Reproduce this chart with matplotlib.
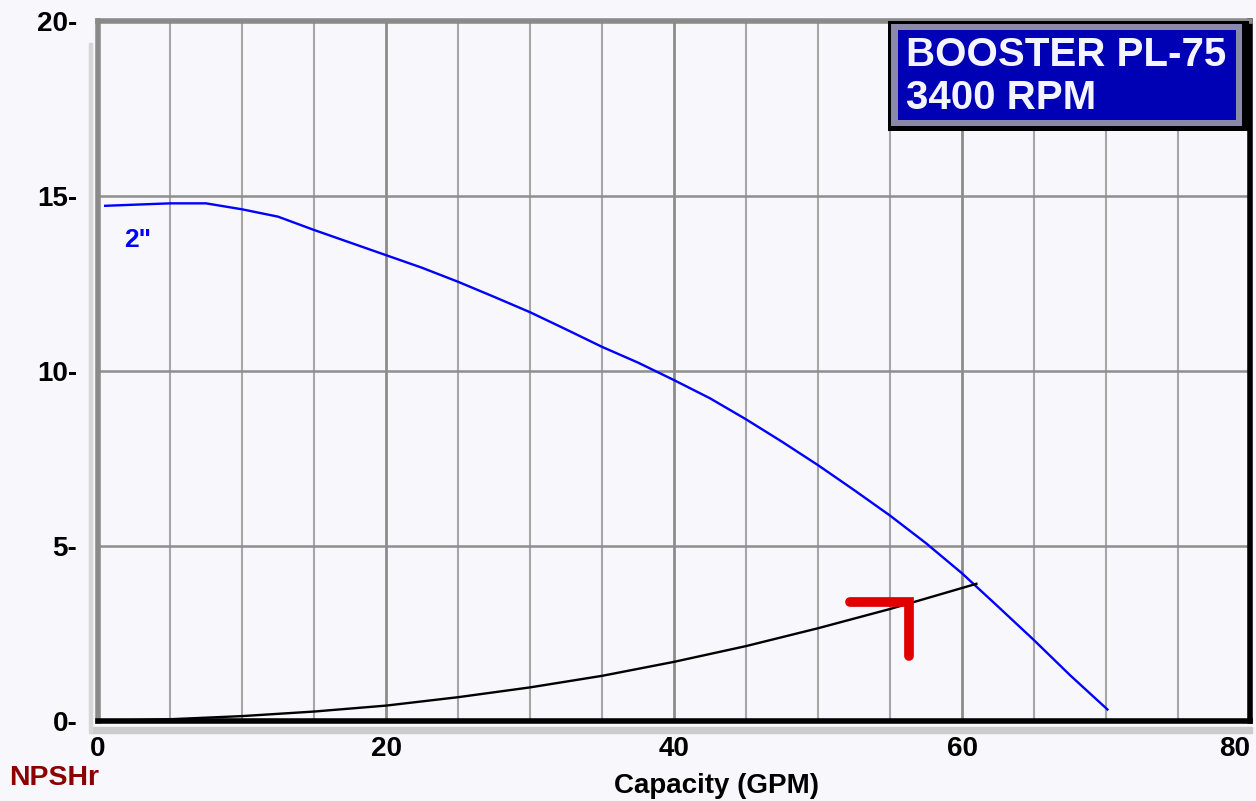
import matplotlib.pyplot as plt
from matplotlib.patches import Rectangle

# pump curve (head, ft) for the 2" impeller
head_gpm = [0.5, 5, 7.5, 10, 12.5, 15, 17.5, 20, 22.5, 25, 27.5, 30, 32.5, 35, 37.5,
            40, 42.5, 45, 47.5, 50, 52.5, 55, 57.5, 60, 62.5, 65, 67.5, 70.1]
head_ft = [14.72, 14.79, 14.79, 14.62, 14.41, 14.03, 13.67, 13.31, 12.95, 12.55, 12.12,
           11.68, 11.19, 10.69, 10.24, 9.74, 9.22, 8.62, 7.98, 7.31, 6.6, 5.87, 5.08,
           4.22, 3.27, 2.31, 1.31, 0.33]

# NPSHr curve
npsh_gpm = [0, 5, 10, 15, 20, 25, 30, 35, 40, 45, 50, 55, 60, 61.0]
npsh_ft = [0, 0.05, 0.14, 0.27, 0.44, 0.68, 0.96, 1.29, 1.69, 2.14, 2.65, 3.2, 3.8, 3.92]

# red marker drawn on the chart
mark_x = [52.2, 56.3, 56.3]
mark_y = [3.4, 3.4, 1.85]

x_ticks = [0, 20, 40, 60, 80]
y_ticks = [0, 5, 10, 15, 20]

bg = '#f7f7fc'
fnt = 'Liberation Sans'
fig = plt.figure(figsize=(12.56, 8.01), dpi=100, facecolor=bg)
ax = fig.add_axes([98 / 1256, 1 - 721 / 801, 1152 / 1256, 700 / 801])
ax.set_facecolor(bg)
ax.set_xlim(0, 80)
ax.set_ylim(0, 20)

# grid
for gx in range(5, 80, 5):
    if gx % 20:
        ax.axvline(gx, color='#a6a6a6', lw=1.5, zorder=1)
    else:
        ax.axvline(gx, color='#8c8c8c', lw=2.0, zorder=1)
for gy in [5, 10, 15]:
    ax.axhline(gy, color='#8f8f8f', lw=1.8, zorder=1)

ax.plot(head_gpm, head_ft, color='#0000ff', lw=1.7, zorder=3)
ax.plot(npsh_gpm, npsh_ft, color='black', lw=1.7, zorder=3)
ax.plot(mark_x, mark_y, color='#e00000', lw=7, solid_capstyle='round',
        solid_joinstyle='miter', zorder=4)

ax.text(1.8, 13.75, '2"', color='#0000ff', fontsize=19, fontweight='bold',
        family=fnt, va='center', ha='left')

# frame with 3d look
for side in ['left', 'top']:
    ax.spines[side].set_color('#8a8a8a')
    ax.spines[side].set_linewidth(4)
for side in ['right', 'bottom']:
    ax.spines[side].set_color('black')
    ax.spines[side].set_linewidth(4)
fig.add_artist(Rectangle((90 / 1256, 1 - 733 / 801), 1162 / 1256, 6 / 801,
                         transform=fig.transFigure, color='#cccccc', zorder=0))
fig.add_artist(Rectangle((89 / 1256, 1 - 733 / 801), 3 / 1256, 690 / 801,
                         transform=fig.transFigure, color='#d6d6d6', zorder=0))

ax.set_xticks(x_ticks)
ax.set_yticks(y_ticks)
ax.set_xticklabels([str(t) for t in x_ticks])
ax.set_yticklabels([f'{t}-' for t in y_ticks])
ax.tick_params(length=0, labelsize=20)
ax.tick_params(axis='y', pad=15)
ax.tick_params(axis='x', pad=11)
for lbl in ax.get_xticklabels() + ax.get_yticklabels():
    lbl.set_fontweight('bold')
    lbl.set_family(fnt)
ax.get_xticklabels()[-1].set_horizontalalignment('right')

fig.text(717 / 1256, 1 - 786 / 801, 'Capacity (GPM)', ha='center', va='center',
         fontsize=20, fontweight='bold', family=fnt)
fig.text(9 / 1256, 1 - 778 / 801, 'NPSHr', ha='left', va='center',
         fontsize=20.5, fontweight='bold', family=fnt, color='#8b0000')

# title box
fig.add_artist(Rectangle((888 / 1256, 1 - 131 / 801), 361 / 1256, 110 / 801,
                         transform=fig.transFigure, facecolor='black',
                         edgecolor='none', zorder=5))
fig.add_artist(Rectangle((891 / 1256, 1 - 126 / 801), 351 / 1256, 102 / 801,
                         transform=fig.transFigure, facecolor='#8a8aa8',
                         edgecolor='none', zorder=5))
fig.add_artist(Rectangle((898 / 1256, 1 - 120 / 801), 338 / 1256, 90 / 801,
                         transform=fig.transFigure, facecolor='#0000b4',
                         edgecolor='none', zorder=6))
fig.text(906 / 1256, 1 - 55 / 801, 'BOOSTER PL-75', ha='left', va='center',
         fontsize=29, fontweight='bold', family=fnt, color='#f4f4ff', zorder=7)
fig.text(906 / 1256, 1 - 98 / 801, '3400 RPM', ha='left', va='center',
         fontsize=29, fontweight='bold', family=fnt, color='#f4f4ff', zorder=7)

fig.savefig('out.png', dpi=100, facecolor=bg)
